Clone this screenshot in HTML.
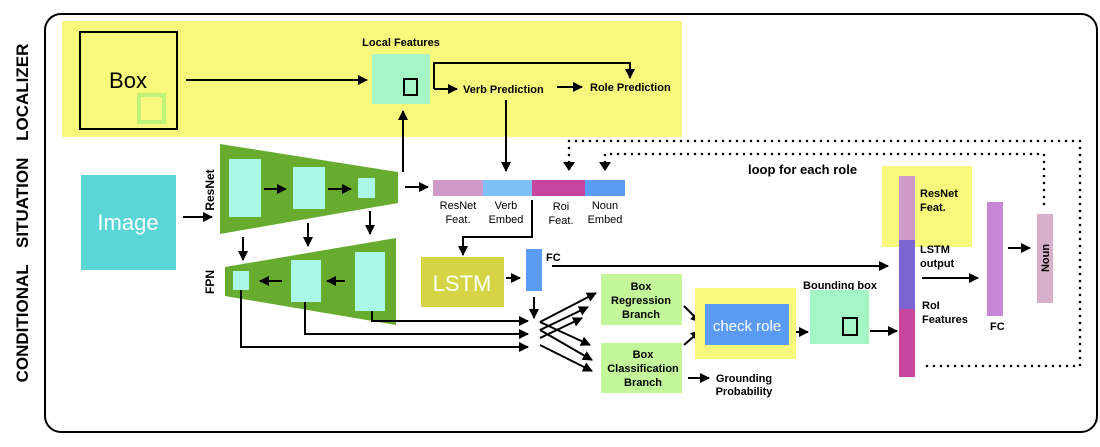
<!DOCTYPE html><html><head><style>body{margin:0;background:#fff}svg{display:block}text{font-family:"Liberation Sans",Arial,sans-serif}</style></head><body>
<svg width="1100" height="447" viewBox="0 0 1100 447" xmlns="http://www.w3.org/2000/svg">
<defs><marker id="a" viewBox="0 0 10 10" refX="9" refY="5" markerWidth="5" markerHeight="5" orient="auto"><path d="M0,0L10,5L0,10z" fill="#000"/></marker></defs>
<g stroke="#000" stroke-width="2" fill="none">
<rect x="45" y="14" width="1052" height="418" rx="16"/>
</g>
<text transform="translate(28,213) rotate(-90)" text-anchor="middle" font-size="17" font-weight="bold" word-spacing="12">CONDITIONAL SITUATION LOCALIZER</text>
<rect x="62" y="21" width="620" height="116" fill="#f8f87c"/>
<rect x="80" y="32" width="97" height="97" fill="none" stroke="#000" stroke-width="2"/>
<text x="128" y="88" font-size="22" text-anchor="middle">Box</text>
<rect x="139" y="95" width="25" height="27" fill="none" stroke="#bff27a" stroke-width="4"/>
<rect x="372" y="54" width="58" height="50" fill="#a6f5c6"/>
<rect x="404" y="79" width="13" height="16" fill="none" stroke="#000" stroke-width="2"/>
<text x="401" y="46" font-size="11" font-weight="bold" text-anchor="middle">Local Features</text>
<text x="463" y="93" font-size="11" font-weight="bold">Verb Prediction</text>
<text x="590" y="91" font-size="11" font-weight="bold">Role Prediction</text>
<polygon points="220,144 398,172 398,203 220,234" fill="#67ac2f"/>
<rect x="229" y="159" width="32" height="58" fill="#aaf8e8"/>
<rect x="293" y="167" width="32" height="42" fill="#aaf8e8"/>
<rect x="358" y="178" width="17" height="20" fill="#aaf8e8"/>
<text transform="translate(214,190) rotate(-90)" text-anchor="middle" font-size="12" font-weight="bold">ResNet</text>
<polygon points="225,267 396,238 396,325 225,296" fill="#67ac2f"/>
<rect x="233" y="271" width="16" height="19" fill="#aaf8e8"/>
<rect x="291" y="260" width="30" height="42" fill="#aaf8e8"/>
<rect x="355" y="252" width="30" height="59" fill="#aaf8e8"/>
<text transform="translate(214,282) rotate(-90)" text-anchor="middle" font-size="12" font-weight="bold">FPN</text>
<g stroke="#000" stroke-width="2" fill="none" marker-end="url(#a)">
<path d="M186,80H367"/>
<path d="M434,89V63H630V78"/>
<path d="M434,89H457"/>
<path d="M557,87H582"/>
<path d="M506,100V171"/>
<path d="M403,172V111"/>
<path d="M405,187H428"/>
<path d="M532,200V237H463V255"/>
<path d="M183,217H212"/>
<path d="M243,237V260"/><path d="M308,223V246"/><path d="M370,211V234"/>
<path d="M264,189H286"/><path d="M328,189H351"/>
<path d="M282,281H260"/><path d="M345,281H327"/>
<path d="M506,278H520"/>
<path d="M552,266H888"/>
<path d="M534,297V318"/>
<path d="M372,311V321H528"/><path d="M305,302V334H528"/><path d="M241,290V347H528"/>
<path d="M540,322L596,293"/><path d="M540,330L588,307"/><path d="M540,338L582,318"/>
<path d="M540,322L590,345"/><path d="M540,330L592,360"/><path d="M540,345L592,371"/>
<path d="M684,306L700,322"/><path d="M684,345L700,331"/>
<path d="M790,332H808"/><path d="M870,331H897"/>
<path d="M688,378H709"/>
<path d="M922,278H978"/><path d="M1008,248H1030"/>
</g>
<rect x="81" y="175" width="95" height="95" fill="#5bd6d6"/>
<text x="128" y="230" font-size="22" fill="#fff" text-anchor="middle">Image</text>
<rect x="433" y="180" width="50" height="16" fill="#d09ac8"/>
<rect x="483" y="180" width="49" height="16" fill="#7fbff8"/>
<rect x="532" y="180" width="53" height="16" fill="#c8479e"/>
<rect x="585" y="180" width="40" height="16" fill="#5a9cf5"/>
<g font-size="11" text-anchor="middle">
<text x="458" y="209">ResNet</text><text x="458" y="223">Feat.</text>
<text x="506" y="209">Verb</text><text x="506" y="223">Embed</text>
<text x="561" y="210">Roi</text><text x="561" y="224">Feat.</text>
<text x="605" y="209">Noun</text><text x="605" y="223">Embed</text>
</g>
<rect x="421" y="257" width="83" height="50" fill="#d4d444"/>
<text x="462" y="291" font-size="22" fill="#fff" text-anchor="middle">LSTM</text>
<rect x="526" y="249" width="16" height="42" fill="#5a9cf5"/>
<text x="546" y="261" font-size="11" font-weight="bold">FC</text>
<rect x="601" y="274" width="81" height="51" fill="#c3f79a"/>
<rect x="601" y="343" width="81" height="50" fill="#c3f79a"/>
<g font-size="11" font-weight="bold" text-anchor="middle">
<text x="641" y="290">Box</text><text x="641" y="304">Regression</text><text x="641" y="318">Branch</text>
<text x="643" y="358">Box</text><text x="643" y="372">Classification</text><text x="643" y="386">Branch</text>
<text x="744" y="382">Grounding</text><text x="744" y="395">Probability</text>
<text x="840" y="289">Bounding box</text>
</g>
<rect x="695" y="288" width="101" height="71" fill="#f8f87c"/>
<rect x="705" y="304" width="84" height="41" fill="#5a9cf5"/>
<text x="747" y="331" font-size="15" fill="#fff" text-anchor="middle">check role</text>
<rect x="810" y="290" width="59" height="54" fill="#a6f5c6"/>
<rect x="843" y="318" width="14" height="17" fill="none" stroke="#000" stroke-width="2"/>
<rect x="882" y="166" width="90" height="81" fill="#f8f87c"/>
<rect x="899" y="176" width="16" height="64" fill="#d09ac8"/>
<rect x="899" y="240" width="16" height="69" fill="#7b65d3"/>
<rect x="899" y="309" width="16" height="68" fill="#c8479e"/>
<g font-size="11" font-weight="bold">
<text x="920" y="197">ResNet</text><text x="920" y="211">Feat.</text>
<text x="920" y="253">LSTM</text><text x="920" y="267">output</text>
<text x="922" y="309">RoI</text><text x="922" y="323">Features</text>
<text x="990" y="330">FC</text>
</g>
<rect x="987" y="202" width="16" height="114" fill="#c786d6"/>
<rect x="1037" y="214" width="16" height="89" fill="#d6b0cb"/>
<text transform="translate(1049,258) rotate(-90)" text-anchor="middle" font-size="11" font-weight="bold">Noun</text>
<text x="748" y="174" font-size="13" font-weight="bold">loop for each role</text>
<g stroke="#000" stroke-width="2.5" fill="none" stroke-dasharray="0 7" stroke-linecap="round">
<path d="M569,162V141H1080V366H925"/>
<path d="M605,162V154H1044V205"/>
</g>
<polygon points="563,162 575,162 569,171" fill="#000"/>
<polygon points="599,162 611,162 605,171" fill="#000"/>
</svg></body></html>
